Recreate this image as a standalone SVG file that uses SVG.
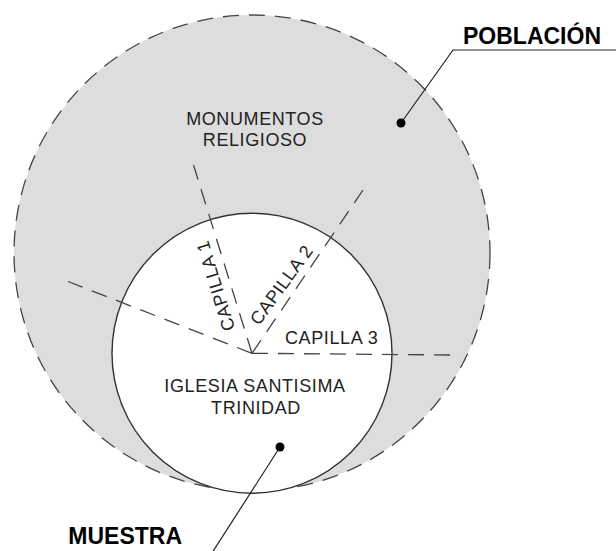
<svg xmlns="http://www.w3.org/2000/svg" width="616" height="551" viewBox="0 0 616 551">
<style>
.lbl{font-family:"Liberation Sans",Arial,sans-serif;font-size:18px;fill:#222;letter-spacing:0.6px}
.big{font-family:"Liberation Sans",Arial,sans-serif;font-size:23px;font-weight:bold;fill:#000}
.dash{fill:none;stroke:#444;stroke-width:1.3;stroke-dasharray:16 10}
.lead{fill:none;stroke:#222;stroke-width:1.2}
</style>
<rect width="616" height="551" fill="#fff"/>
<g id="poblacion">
<circle cx="252" cy="253" r="238" fill="#dddddd" stroke="#444" stroke-width="1.3" stroke-dasharray="16 10"/>
</g>
<g id="muestra">
<circle cx="252" cy="353.3" r="140" fill="#fff" stroke="#333" stroke-width="1.4"/>
</g>
<g id="connectors">
<line class="dash" x1="252" y1="353.3" x2="193.5" y2="165"/>
<line class="dash" x1="252" y1="353.3" x2="363" y2="190"/>
<line class="dash" x1="252" y1="353.3" x2="68" y2="281.5"/>
<line class="dash" x1="252" y1="353.3" x2="452" y2="355"/>
<polyline class="lead" points="401,123 453,50 616,50"/>
<circle cx="401" cy="123" r="4.5" fill="#000"/>
<line class="lead" x1="280" y1="447" x2="210" y2="556"/>
<circle cx="280" cy="447" r="4.5" fill="#000"/>
</g>
<g id="label-poblacion"><text class="big" x="463" y="44">POBLACIÓN</text></g>
<g id="label-muestra"><text class="big" x="182" y="544" text-anchor="end">MUESTRA</text></g>
<g id="monumentos">
<text class="lbl" x="255" y="125" text-anchor="middle">MONUMENTOS</text>
<text class="lbl" x="255" y="146" text-anchor="middle">RELIGIOSO</text>
</g>
<g id="iglesia">
<text class="lbl" x="255" y="392" text-anchor="middle">IGLESIA SANTISIMA</text>
<text class="lbl" x="256" y="414" text-anchor="middle">TRINIDAD</text>
</g>
<g id="capilla1"><text class="lbl" transform="translate(221.5,284) rotate(-107)" text-anchor="middle">CAPILLA 1</text></g>
<g id="capilla2"><text class="lbl" transform="translate(286.5,288.5) rotate(-54)" text-anchor="middle">CAPILLA 2</text></g>
<g id="capilla3"><text class="lbl" x="285" y="344">CAPILLA 3</text></g>
</svg>
